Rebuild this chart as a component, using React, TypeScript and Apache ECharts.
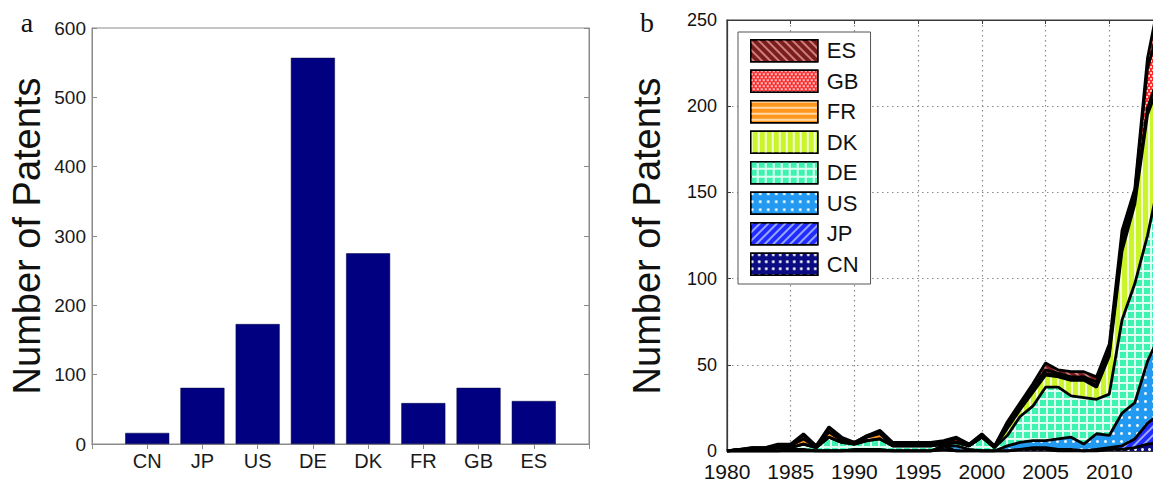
import React, { useEffect, useRef } from 'react';
import * as echarts from 'echarts';

// ---------- Panel a: total patents per country ----------
const countries = ['CN', 'JP', 'US', 'DE', 'DK', 'FR', 'GB', 'ES'];
const patentTotals = [16, 81, 173, 557, 275, 59, 81, 62];

// ---------- Panel b: patents per year, stacked ----------
const years = [
  '1980', '1981', '1982', '1983', '1984', '1985', '1986', '1987', '1988', '1989',
  '1990', '1991', '1992', '1993', '1994', '1995', '1996', '1997', '1998', '1999',
  '2000', '2001', '2002', '2003', '2004', '2005', '2006', '2007', '2008', '2009',
  '2010', '2011', '2012', '2013', '2014', '2015',
];
const cnByYear = [0, 0, 0, 0, 0, 0, 0, 0, 0, 0, 0, 0, 0, 0, 0, 0, 0, 1, 0, 0, 0, 0, 0, 1, 1, 1, 0, 0, 0, 0, 1, 1, 2, 4, 5];
const jpByYear = [0, 0, 0, 0, 0, 0, 0, 0, 0, 0, 0, 0, 0, 0, 0, 0, 0, 2, 0, 0, 0, 0, 0, 0, 1, 1, 1, 1, 0, 1, 1, 2, 5, 12, 17];
const usByYear = [0, 0, 0, 0, 0, 1, 1, 0, 0, 0, 1, 1, 1, 0, 0, 0, 0, 0, 3, 1, 0, 0, 3, 4, 4, 4, 6, 7, 4, 9, 7, 19, 21, 36, 46];
const deByYear = [0, 1, 1, 1, 2, 1, 3, 2, 8, 5, 3, 5, 6, 3, 3, 3, 3, 1, 2, 2, 8, 2, 6, 15, 20, 31, 30, 24, 27, 20, 24, 54, 69, 73, 92];
const dkByYear = [0, 0, 0, 0, 0, 0, 0, 0, 0, 0, 0, 0, 0, 0, 0, 0, 0, 0, 0, 0, 0, 0, 4, 4, 8, 7, 6, 9, 10, 7, 22, 40, 46, 70, 55];
const frByYear = [0, 0, 0, 0, 0, 1, 3, 0, 3, 1, 0, 2, 3, 0, 0, 0, 0, 0, 0, 0, 0, 0, 2, 2, 2, 1, 1, 1, 1, 1, 2, 3, 3, 4, 5];
const gbByYear = [0, 0, 1, 1, 1, 1, 2, 1, 2, 1, 1, 1, 1, 1, 1, 1, 1, 1, 2, 1, 1, 1, 1, 1, 1, 2, 1, 1, 1, 2, 2, 5, 4, 23, 28];
const esByYear = [0, 0, 0, 0, 1, 0, 1, 0, 1, 1, 0, 0, 1, 1, 1, 1, 1, 1, 1, 0, 1, 0, 1, 1, 2, 4, 2, 3, 3, 3, 3, 4, 2, 6, 17];

const FONT = '"Liberation Sans", Arial, Helvetica, sans-serif';

const seriesDefs = [
  {
    name: 'CN', data: cnByYear, color: '#0b0b82',
    decal: { symbol: 'circle', symbolSize: 1, color: 'rgba(255,255,255,0.95)', dashArrayX: [3, 4], dashArrayY: [3, 4] },
  },
  {
    name: 'JP', data: jpByYear, color: '#1f2bff',
    decal: { symbol: 'rect', symbolSize: 1, color: 'rgba(190,205,255,0.75)', dashArrayX: [1, 0], dashArrayY: [1.3, 3.5], rotation: -Math.PI / 4 },
  },
  {
    name: 'US', data: usByYear, color: '#229af2',
    decal: { symbol: 'circle', symbolSize: 1, color: 'rgba(255,255,255,0.95)', dashArrayX: [2.4, 5], dashArrayY: [2.4, 4.5] },
  },
  {
    // light base with teal squares on top -> teal area with a fine white grid
    name: 'DE', data: deByYear, color: '#dcfff1',
    decal: { symbol: 'rect', symbolSize: 1, color: '#3ef2b2', dashArrayX: [5.6, 1.3], dashArrayY: [5.6, 1.3] },
  },
  {
    name: 'DK', data: dkByYear, color: '#c9f52a',
    decal: { symbol: 'rect', symbolSize: 1, color: 'rgba(255,255,255,0.8)', dashArrayX: [1.2, 5], dashArrayY: [1, 0] },
  },
  {
    name: 'FR', data: frByYear, color: '#ff961e',
    decal: { symbol: 'rect', symbolSize: 1, color: 'rgba(255,235,200,0.8)', dashArrayX: [1, 0], dashArrayY: [1.3, 4] },
  },
  {
    name: 'GB', data: gbByYear, color: '#ff2626',
    decal: { symbol: 'circle', symbolSize: 1, color: 'rgba(255,255,255,0.9)', dashArrayX: [[1.8, 1.8], [0, 1.8, 1.8, 0]], dashArrayY: [1.8, 0.6] },
  },
  {
    name: 'ES', data: esByYear, color: '#7c1d1d',
    decal: { symbol: 'rect', symbolSize: 1, color: 'rgba(240,170,170,0.7)', dashArrayX: [1, 0], dashArrayY: [1.3, 3.2], rotation: Math.PI / 4 },
  },
];

const legendOrder = ['ES', 'GB', 'FR', 'DK', 'DE', 'US', 'JP', 'CN'];

export default function App() {
  const ref = useRef<HTMLDivElement>(null);

  useEffect(() => {
    if (!ref.current) return;
    const chart = echarts.init(ref.current, undefined, { renderer: 'svg' });

    const barCats = ['', ...countries, ''];
    const barData: any[] = ['-', ...patentTotals, '-'];

    const grayA = '#8a8a8a';
    const darkB = '#3a3a3a';

    const option: any = {
      animation: false,
      backgroundColor: '#ffffff',
      textStyle: { fontFamily: FONT },
      grid: [
        { left: 92, top: 28, width: 497, height: 416, show: true, borderColor: grayA, borderWidth: 1, backgroundColor: 'transparent', containLabel: false, outerBoundsMode: 'none' },
        { left: 727, top: 20, width: 446, height: 431, show: true, borderColor: darkB, borderWidth: 1.2, backgroundColor: 'transparent', containLabel: false, outerBoundsMode: 'none' },
      ],
      xAxis: [
        {
          gridIndex: 0, type: 'category', data: barCats, boundaryGap: false,
          axisLine: { show: true, lineStyle: { color: grayA, width: 1 } },
          axisTick: { show: true, inside: true, length: 5, lineStyle: { color: grayA } },
          axisLabel: { fontSize: 20, color: '#1a1a1a', margin: 7, fontFamily: FONT },
          splitLine: { show: false },
        },
        {
          gridIndex: 0, type: 'category', data: barCats, boundaryGap: false, position: 'top',
          axisLine: { show: true, lineStyle: { color: grayA, width: 1 } },
          axisTick: { show: true, inside: true, length: 5, lineStyle: { color: grayA } },
          axisLabel: { show: false },
          splitLine: { show: false },
        },
        {
          gridIndex: 1, type: 'category', data: years, boundaryGap: false,
          axisLine: { show: true, lineStyle: { color: darkB, width: 1.2 } },
          axisTick: { show: true, inside: true, length: 4, interval: 4, lineStyle: { color: darkB } },
          axisLabel: { interval: 4, fontSize: 21, color: '#111', margin: 10, fontFamily: FONT, showMaxLabel: false },
          splitLine: { show: true, interval: 4, lineStyle: { type: [1.5, 3.5], color: '#8a8a8a', width: 1.2 } },
        },
        {
          gridIndex: 1, type: 'category', data: years, boundaryGap: false, position: 'top',
          axisLine: { show: true, lineStyle: { color: darkB, width: 1.2 } },
          axisTick: { show: true, inside: true, length: 4, interval: 4, lineStyle: { color: darkB } },
          axisLabel: { show: false },
          splitLine: { show: false },
        },
      ],
      yAxis: [
        {
          gridIndex: 0, type: 'value', min: 0, max: 600, interval: 100,
          axisLine: { show: true, lineStyle: { color: grayA, width: 1 } },
          axisTick: { show: true, inside: true, length: 5, lineStyle: { color: grayA } },
          axisLabel: { fontSize: 19, color: '#1a1a1a', margin: 6, fontFamily: FONT },
          splitLine: { show: false },
        },
        {
          gridIndex: 0, type: 'value', min: 0, max: 600, interval: 100, position: 'right',
          axisLine: { show: true, lineStyle: { color: grayA, width: 1 } },
          axisTick: { show: true, inside: true, length: 5, lineStyle: { color: grayA } },
          axisLabel: { show: false },
          splitLine: { show: false },
        },
        {
          gridIndex: 1, type: 'value', min: 0, max: 250, interval: 50,
          axisLine: { show: true, lineStyle: { color: darkB, width: 1.2 } },
          axisTick: { show: true, inside: true, length: 4, lineStyle: { color: darkB } },
          axisLabel: { fontSize: 18, color: '#111', margin: 10, fontFamily: FONT },
          splitLine: { show: true, lineStyle: { type: [1.5, 3.5], color: '#8a8a8a', width: 1.2 } },
        },
      ],
      legend: {
        orient: 'vertical', left: 738, top: 32,
        padding: [7, 12, 8, 12], itemGap: 7, itemWidth: 67, itemHeight: 22,
        backgroundColor: '#ffffff', borderColor: '#555555', borderWidth: 1, borderRadius: 0,
        icon: 'rect', selectedMode: false,
        textStyle: { fontSize: 22, color: '#111', fontFamily: FONT, padding: [0, 0, 0, 4] },
        data: legendOrder.map((n) => {
          const d = seriesDefs.find((s) => s.name === n)!;
          return { name: n, icon: 'rect', itemStyle: { color: d.color, decal: d.decal, borderColor: '#000', borderWidth: 1.5 } };
        }),
      },
      graphic: [
        { type: 'text', x: 27, y: 22, style: { text: 'a', font: '28px "Liberation Serif", "Times New Roman", serif', fill: '#111', align: 'center', verticalAlign: 'middle' } },
        { type: 'text', x: 647, y: 22, style: { text: 'b', font: '28px "Liberation Serif", "Times New Roman", serif', fill: '#111', align: 'center', verticalAlign: 'middle' } },
        { type: 'text', x: 27, y: 236, rotation: Math.PI / 2, style: { text: 'Number of Patents', font: '38px "Liberation Sans", Arial, sans-serif', fill: '#111', align: 'center', verticalAlign: 'middle' } },
        { type: 'text', x: 647, y: 236, rotation: Math.PI / 2, style: { text: 'Number of Patents', font: '38px "Liberation Sans", Arial, sans-serif', fill: '#111', align: 'center', verticalAlign: 'middle' } },
      ],
      series: [
        {
          type: 'bar', name: 'total', xAxisIndex: 0, yAxisIndex: 0, data: barData, barWidth: 44,
          itemStyle: { color: '#000080', borderColor: '#000040', borderWidth: 0.5 },
        },
        ...seriesDefs.map((s) => ({
          type: 'line', name: s.name, xAxisIndex: 2, yAxisIndex: 2, stack: 'total',
          data: s.data, symbol: 'none', showSymbol: false,
          lineStyle: { color: '#000', width: 2.8, decal: s.decal },
          itemStyle: { color: s.color, decal: s.decal },
          areaStyle: { color: s.color, opacity: 1 },
        })),
      ],
    };

    chart.setOption(option);
    return () => chart.dispose();
  }, []);

  return (
    <div style={{ position: 'absolute', left: 0, top: 0, width: 1153, height: 482, overflow: 'hidden' }}>
      <div ref={ref} style={{ width: 1230, height: 482 }} />
    </div>
  );
}
